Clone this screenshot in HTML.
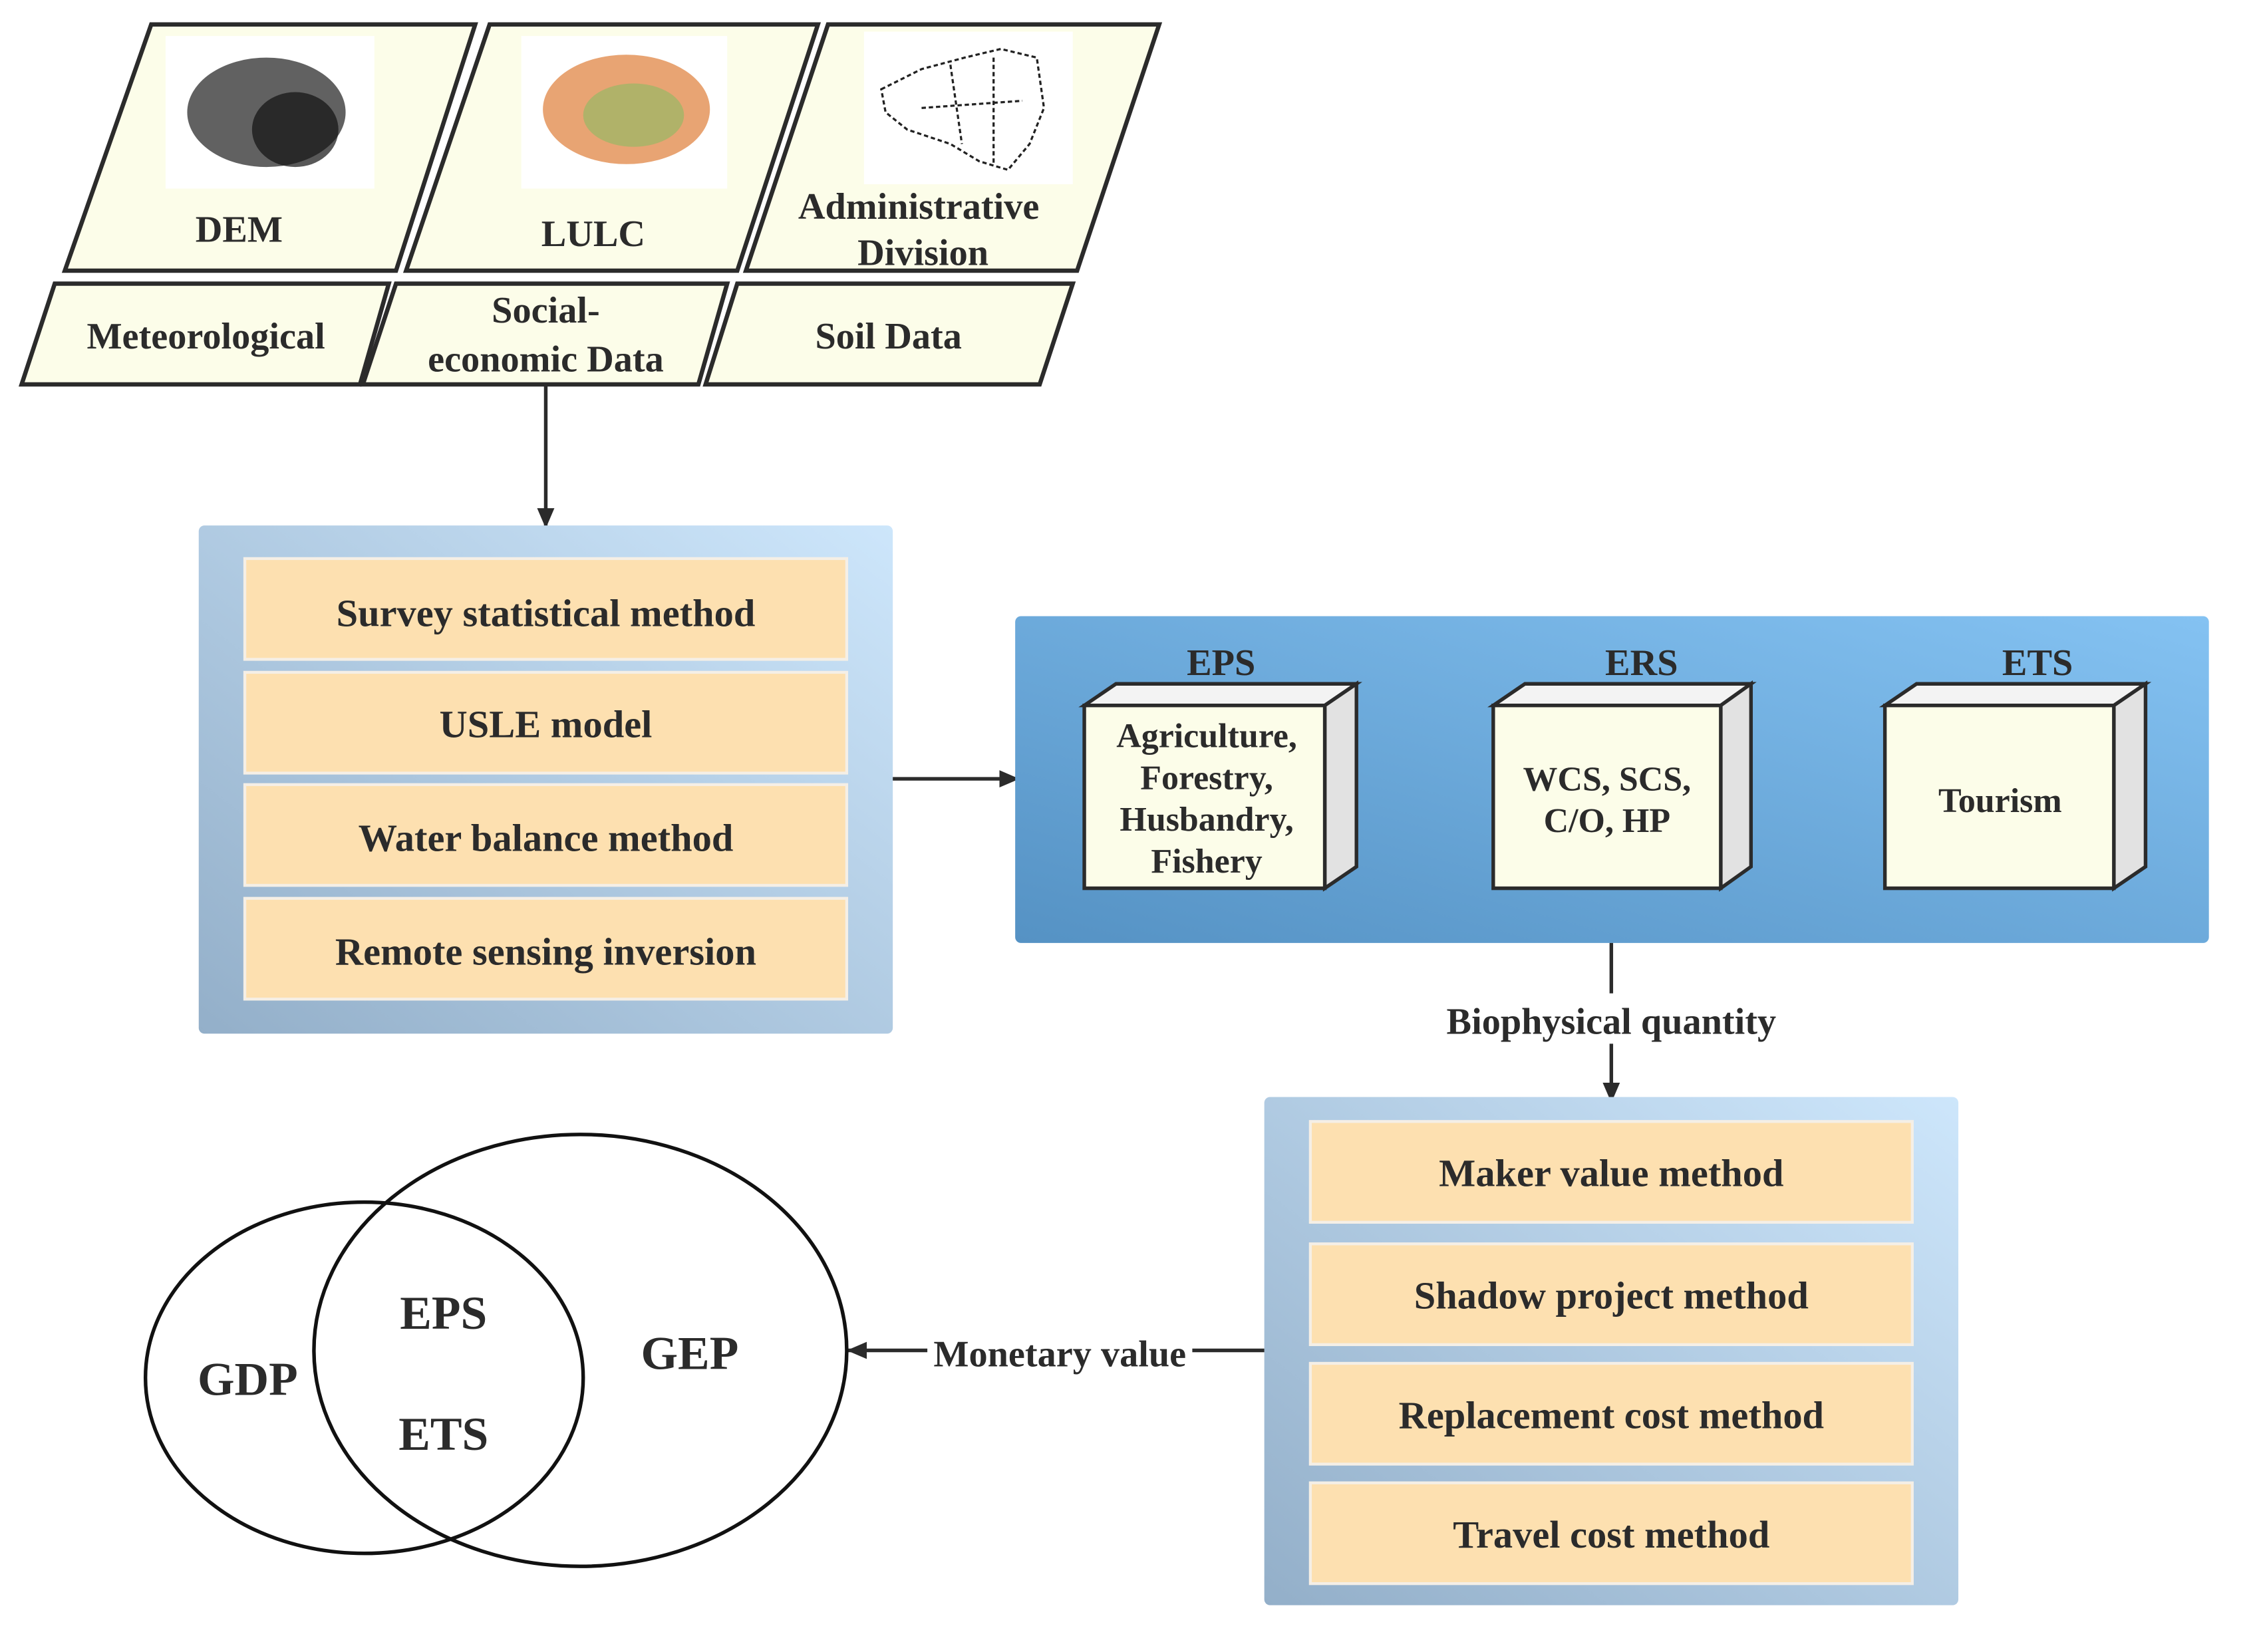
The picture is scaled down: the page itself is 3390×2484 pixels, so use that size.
<!DOCTYPE html>
<html><head><meta charset="utf-8"><style>html,body{margin:0;padding:0;background:#fff}svg{display:block}
svg text{font-family:"Liberation Serif","DejaVu Serif",serif;font-weight:bold;fill:#2b2b2b;text-anchor:middle}</style></head>
<body>
<svg width="3390" height="2484" viewBox="0 0 1566 1147.5" xmlns="http://www.w3.org/2000/svg" font-family="Liberation Serif, DejaVu Serif, serif" font-weight="bold">
<defs>
<linearGradient id="g1" x1="0" y1="1" x2="1" y2="0"><stop offset="0" stop-color="#93afc9"/><stop offset="1" stop-color="#cde6fb"/></linearGradient>
<linearGradient id="g2" x1="0" y1="1" x2="1" y2="0"><stop offset="0" stop-color="#5592c4"/><stop offset="1" stop-color="#84c2f2"/></linearGradient>
<marker id="ar" markerWidth="14" markerHeight="14" refX="13" refY="7" orient="auto" markerUnits="userSpaceOnUse" viewBox="0 0 14 14"><path d="M0,1L14,7L0,13z" fill="#2b2b2b"/></marker>
</defs>
<g fill="#fcfde9" stroke="#2b2b2b" stroke-width="3">
<polygon points="105,17 330,17 275,188 45,188"/>
<polygon points="340,17 568,17 512,188 282,188"/>
<polygon points="575,17 805,17 748,188 518,188"/>
<polygon points="38,197 270,197 250,267 15,267"/>
<polygon points="275,197 505,197 485,267 252,267"/>
<polygon points="512,197 745,197 722,267 490,267"/>
</g>
<rect x="115" y="25" width="145" height="106" fill="#fff"/>
<ellipse cx="185" cy="78" rx="55" ry="38" fill="#3a3a3a" opacity="0.8"/>
<ellipse cx="205" cy="90" rx="30" ry="26" fill="#111" opacity="0.7"/>
<rect x="362" y="25" width="143" height="106" fill="#fff"/>
<ellipse cx="435" cy="76" rx="58" ry="38" fill="#e8a473"/>
<ellipse cx="440" cy="80" rx="35" ry="22" fill="#78c060" opacity="0.5"/>
<rect x="600" y="22" width="145" height="106" fill="#fff"/>
<path d="M612,62 L640,48 L670,40 L695,34 L720,40 L725,75 L715,100 L700,118 L680,112 L660,100 L630,90 L615,78Z M660,45 L668,100 M640,75 L710,70 M690,40 L690,115" fill="none" stroke="#222" stroke-width="1.5" stroke-dasharray="3,2"/>
<g font-size="26">
<text x="166" y="168">DEM</text>
<text x="412" y="171">LULC</text>
<text x="638" y="152">Administrative</text>
<text x="641" y="184">Division</text>
<text x="143" y="242">Meteorological</text>
<text x="379" y="224">Social-</text>
<text x="379" y="258">economic Data</text>
<text x="617" y="242">Soil Data</text>
</g>
<line x1="379" y1="267" x2="379" y2="366" stroke="#2b2b2b" stroke-width="2.5" marker-end="url(#ar)"/>
<rect x="138" y="365" width="482" height="353" rx="4" fill="url(#g1)"/>
<g fill="#fde0b0" stroke="#f5efe6" stroke-width="2">
<rect x="170" y="388" width="418" height="70"/><rect x="170" y="467" width="418" height="70"/>
<rect x="170" y="545" width="418" height="70"/><rect x="170" y="624" width="418" height="70"/>
</g>
<g font-size="27">
<text x="379" y="435">Survey statistical method</text>
<text x="379" y="512">USLE model</text>
<text x="379" y="591">Water balance method</text>
<text x="379" y="670">Remote sensing inversion</text>
</g>
<line x1="620" y1="541" x2="707" y2="541" stroke="#2b2b2b" stroke-width="2.5" marker-end="url(#ar)"/>
<rect x="705" y="428" width="829" height="227" rx="4" fill="url(#g2)"/>
<g stroke="#2b2b2b" stroke-width="2.5">
<polygon points="753,490 775,475 942,475 920,490" fill="#f3f3f3"/><polygon points="920,490 942,475 942,602 920,617" fill="#e2e2e2"/><rect x="753" y="490" width="167" height="127" fill="#fcfde9"/>
<polygon points="1037,490 1059,475 1216,475 1195,490" fill="#f3f3f3"/><polygon points="1195,490 1216,475 1216,602 1195,617" fill="#e2e2e2"/><rect x="1037" y="490" width="158" height="127" fill="#fcfde9"/>
<polygon points="1309,490 1331,475 1490,475 1468,490" fill="#f3f3f3"/><polygon points="1468,490 1490,475 1490,602 1468,617" fill="#e2e2e2"/><rect x="1309" y="490" width="159" height="127" fill="#fcfde9"/>
</g>
<g font-size="26"><text x="848" y="469">EPS</text><text x="1140" y="469">ERS</text><text x="1415" y="469">ETS</text></g>
<g font-size="24">
<text x="838" y="519">Agriculture,</text><text x="838" y="548">Forestry,</text><text x="838" y="577">Husbandry,</text><text x="838" y="606">Fishery</text>
<text x="1116" y="549">WCS, SCS,</text><text x="1116" y="578">C/O, HP</text>
<text x="1389" y="564">Tourism</text>
</g>
<line x1="1119" y1="655" x2="1119" y2="690" stroke="#2b2b2b" stroke-width="2.5"/>
<text x="1119" y="718" font-size="26">Biophysical quantity</text>
<line x1="1119" y1="725" x2="1119" y2="765" stroke="#2b2b2b" stroke-width="2.5" marker-end="url(#ar)"/>
<rect x="878" y="762" width="482" height="353" rx="4" fill="url(#g1)"/>
<g fill="#fde0b0" stroke="#f5efe6" stroke-width="2">
<rect x="910" y="779" width="418" height="70"/><rect x="910" y="864" width="418" height="70"/>
<rect x="910" y="947" width="418" height="70"/><rect x="910" y="1030" width="418" height="70"/>
</g>
<g font-size="27">
<text x="1119" y="824">Maker value method</text>
<text x="1119" y="909">Shadow project method</text>
<text x="1119" y="992">Replacement cost method</text>
<text x="1119" y="1075">Travel cost method</text>
</g>
<line x1="878" y1="938" x2="589" y2="938" stroke="#2b2b2b" stroke-width="2.5" marker-end="url(#ar)"/>
<rect x="644" y="925" width="184" height="28" fill="#fff"/>
<text x="736" y="949" font-size="26">Monetary value</text>
<g fill="none" stroke="#111" stroke-width="2.5">
<ellipse cx="253" cy="957" rx="152" ry="122"/>
<ellipse cx="403" cy="938" rx="185" ry="150"/>
</g>
<g font-size="33">
<text x="308" y="923">EPS</text><text x="308" y="1007">ETS</text>
<text x="172" y="969">GDP</text><text x="479" y="951">GEP</text>
</g>
</svg>
</body></html>
